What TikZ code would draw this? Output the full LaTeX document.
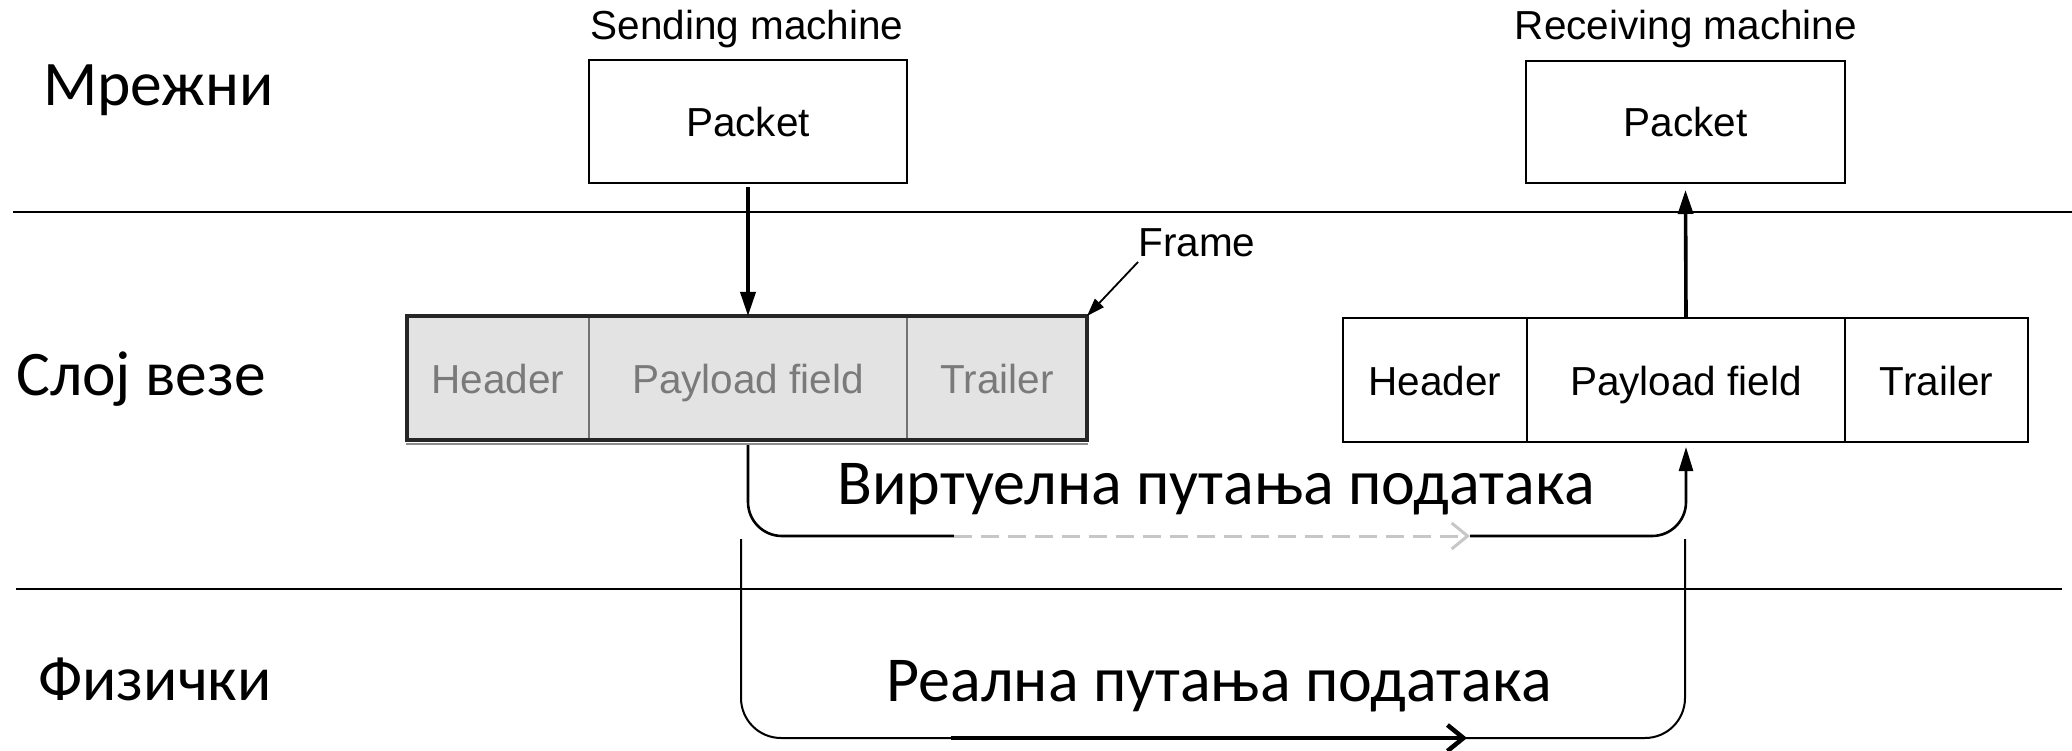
\documentclass[tikz,border=0pt]{standalone}
\usepackage{fontspec}
\setmainfont{Liberation Sans}
\newfontfamily\cyrfont{Carlito}
\usetikzlibrary{arrows.meta,calc}
\begin{document}
\begin{tikzpicture}[x=1pt,y=-1pt,
  diag/.style={font=\fontsize{40.5}{48}\selectfont},
  cyr/.style={font=\cyrfont\fontsize{63.5}{74}\selectfont, inner sep=0pt},
  pathtext/.style={font=\cyrfont\fontsize{64}{76}\selectfont, inner sep=0pt},
  layerline/.style={line width=2pt},
  box/.style={draw, line width=2.5pt, inner sep=0pt, outer sep=0pt, diag,
    text height=30pt, text depth=0pt},
  sfield/.style={draw=black!55, line width=2pt, fill=black!11, text=black!52,
    inner sep=0pt, outer sep=0pt, minimum height=124pt, diag,
    text height=30pt, text depth=-3pt},
  rfield/.style={box, minimum height=124pt, text depth=-3pt},
  updown/.style={line width=3.6pt, -{Triangle[length=24pt,width=15pt]}},
  route/.style={line width=2.6pt},
  barb/.style={-{Straight Barb[length=16pt,width=26pt]}}]
\useasboundingbox (0,0) rectangle (2072,751);

% layer names
\node[cyr, anchor=base west] (net)  at (43,106) {Мрежни};
\node[cyr, anchor=base west] (link) at (16,395) {Слој везе};
\node[cyr, anchor=base west] (phy)  at (38,700) {Физички};

% layer separators
\coordinate (l1a) at (13,212);  \coordinate (l1b) at (2072,212);
\coordinate (l2a) at (16,589);  \coordinate (l2b) at (2062,589);
\draw[layerline] (l1a) -- (l1b);
\draw[layerline] (l2a) -- (l2b);

% machines and packets
\node[diag, anchor=base] (smach) at (747,40) {Sending machine};
\node[diag, anchor=base] (rmach) at (1686,40) {Receiving machine};
\node[box, minimum width=318pt, minimum height=123pt] (spk) at (748,121.5) {Packet};
\node[box, minimum width=319pt, minimum height=122pt] (rpk) at (1685.5,122) {Packet};

% sending frame
\node[sfield, minimum width=182pt] (sh) at (498,378) {Header};
\node[sfield, minimum width=318pt] (sp) at (748,378) {Payload field};
\node[sfield, minimum width=180pt] (st) at (997,378) {Trailer};
\draw[line width=2pt, black!45] ([xshift=-1pt,yshift=-4pt]sh.south west) -- ([xshift=1pt,yshift=-4pt]st.south east);
\draw[line width=4pt, black!85] (sh.north west) rectangle (st.south east);

% receiving frame
\node[rfield, minimum width=184pt] (rh) at (1435,380) {Header};
\node[rfield, minimum width=318pt] (rp) at (1686,380) {Payload field};
\node[rfield, minimum width=183pt] (rt) at (1936.5,380) {Trailer};

% frame label
\node[diag, anchor=base] (flab) at (1197,257) {Frame};
\coordinate (ftail) at (1138,262);
\draw[line width=1.8pt, -{Triangle[length=18pt,width=12pt]}] (ftail) -- (st.north east);

% packet hand-over between layers
\draw[updown] ($(spk.south)+(0,4)$) -- (sp.north);
\draw[updown] (rp.north) -- ($(rpk.south)+(0,7)$);

% virtual data path
\coordinate (v1) at (954,536);
\coordinate (v2) at (1470,536);
\draw[route, rounded corners=34pt] ($(sp.south)+(0,5)$) |- (v1);
\draw[route, line width=3pt, black!22, dash pattern=on 18pt off 9pt, barb] (v1) -- (v2);
\draw[route, rounded corners=34pt, -{Triangle[length=24pt,width=14pt]}] (v2) -| ($(rp.south)+(0,5)$);
\node[pathtext, anchor=base] (vtext) at (1216,504) {Виртуелна путања података};

% real data path
\coordinate (p1) at (741,539);
\coordinate (p2) at (1685,539);
\coordinate (pa) at (951,738);
\coordinate (pb) at (1467,738);
\draw[line width=2pt, rounded corners=40pt] (p1) |- (pa) -- (pb) -| (p2);
\draw[line width=4.5pt, barb] (pa) -- (pb);
\node[pathtext, anchor=base] (rtext) at (1219,701) {Реална путања података};
\end{tikzpicture}
\end{document}
